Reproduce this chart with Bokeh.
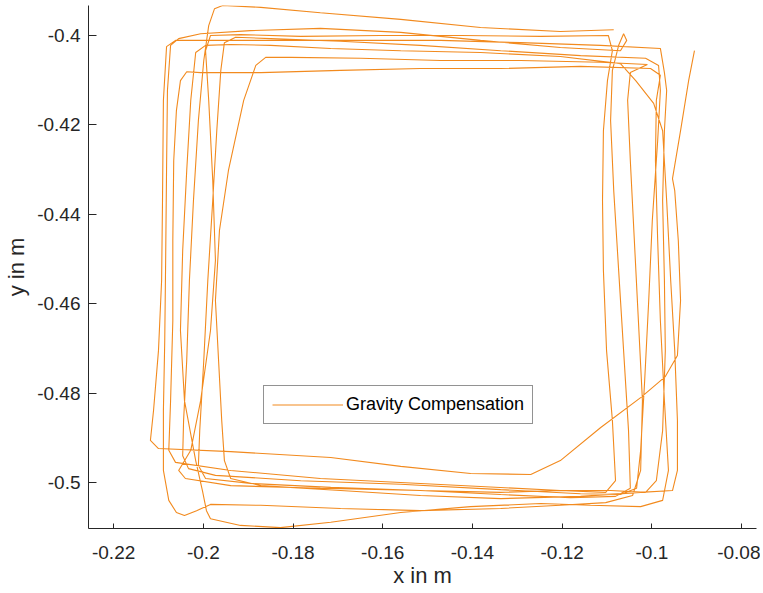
from bokeh.plotting import figure
from bokeh.models import Range1d, FixedTicker, Legend, LegendItem
from bokeh.embed import file_html
from bokeh.resources import INLINE

# Trajectory (x in m, y in m), one list per lap
lap1_x = [-0.1085, -0.1204, -0.1382, -0.1560, -0.1739, -0.1872, -0.1957, -0.1975, -0.1988, -0.1999, -0.2011, -0.2022, -0.2031, -0.2037, -0.2044, -0.2046, -0.2033, -0.1973, -0.1783, -0.1560, -0.1337, -0.1159, -0.1070, -0.1034, -0.1025, -0.1016, -0.1007, -0.0999, -0.0987, -0.0981, -0.0985, -0.1014]
lap1_y = [-0.3987, -0.3991, -0.3982, -0.3964, -0.3949, -0.3937, -0.3933, -0.3940, -0.3978, -0.4056, -0.4190, -0.4369, -0.4548, -0.4727, -0.4861, -0.4940, -0.4969, -0.4984, -0.4996, -0.5004, -0.5016, -0.5025, -0.5027, -0.5013, -0.4928, -0.4772, -0.4593, -0.4414, -0.4235, -0.4123, -0.4067, -0.4051]

lap2_x = [-0.1159, -0.1337, -0.1516, -0.1694, -0.1850, -0.1928, -0.1953, -0.1961, -0.1970, -0.1979, -0.1990, -0.1999, -0.2008, -0.2011, -0.1995, -0.1895, -0.1716, -0.1516, -0.1337, -0.1181, -0.1081, -0.1048, -0.1052, -0.1063, -0.1074, -0.1085, -0.1092, -0.1088, -0.1074, -0.1063, -0.1056, -0.1070]
lap2_y = [-0.4045, -0.4034, -0.4022, -0.4013, -0.4007, -0.4004, -0.4016, -0.4078, -0.4213, -0.4369, -0.4548, -0.4727, -0.4884, -0.4962, -0.4991, -0.5002, -0.5011, -0.5018, -0.5027, -0.5034, -0.5031, -0.5013, -0.4884, -0.4705, -0.4526, -0.4347, -0.4190, -0.4078, -0.4022, -0.3996, -0.4011, -0.4034]

lap3_x = [-0.1204, -0.1382, -0.1560, -0.1739, -0.1895, -0.2006, -0.2055, -0.2073, -0.2080, -0.2082, -0.2084, -0.2086, -0.2089, -0.2089, -0.2077, -0.2060, -0.2042, -0.2015, -0.1984, -0.1872, -0.1694, -0.1516, -0.1337, -0.1204, -0.1103, -0.1043, -0.1025, -0.1021, -0.1030, -0.1039, -0.1048, -0.1054, -0.1048, -0.1010]
lap3_y = [-0.4027, -0.4011, -0.3993, -0.3984, -0.3989, -0.3996, -0.4007, -0.4022, -0.4123, -0.4302, -0.4503, -0.4682, -0.4839, -0.4973, -0.5040, -0.5067, -0.5074, -0.5063, -0.5049, -0.5051, -0.5058, -0.5063, -0.5058, -0.5051, -0.5045, -0.5029, -0.4973, -0.4817, -0.4638, -0.4459, -0.4280, -0.4145, -0.4083, -0.4065]

lap4_x = [-0.1114, -0.1293, -0.1471, -0.1649, -0.1805, -0.1861, -0.1883, -0.1910, -0.1944, -0.1964, -0.1973, -0.1966, -0.1959, -0.1953, -0.1939, -0.1872, -0.1694, -0.1516, -0.1337, -0.1159, -0.1025, -0.0954, -0.0943, -0.0943, -0.0949, -0.0958, -0.0967, -0.0976, -0.0996, -0.1036, -0.1070]
lap4_y = [-0.4060, -0.4056, -0.4056, -0.4051, -0.4049, -0.4049, -0.4067, -0.4145, -0.4302, -0.4436, -0.4593, -0.4727, -0.4861, -0.4951, -0.4991, -0.5007, -0.5018, -0.5029, -0.5036, -0.5031, -0.5022, -0.5018, -0.4973, -0.4861, -0.4705, -0.4548, -0.4369, -0.4213, -0.4152, -0.4101, -0.4063]

lap5_x = [-0.1204, -0.1382, -0.1560, -0.1716, -0.1850, -0.1939, -0.1995, -0.2017, -0.2028, -0.2037, -0.2046, -0.2051, -0.2042, -0.2017, -0.2002, -0.1993, -0.1984, -0.1917, -0.1828, -0.1716, -0.1560, -0.1404, -0.1248, -0.1137, -0.1025, -0.0976, -0.0963, -0.0972, -0.0981, -0.0987, -0.0992, -0.0990, -0.0981, -0.1003]
lap5_y = [-0.4047, -0.4038, -0.4034, -0.4029, -0.4022, -0.4020, -0.4022, -0.4038, -0.4145, -0.4302, -0.4481, -0.4660, -0.4817, -0.4951, -0.5018, -0.5063, -0.5081, -0.5096, -0.5101, -0.5089, -0.5067, -0.5054, -0.5047, -0.5051, -0.5054, -0.5040, -0.4973, -0.4817, -0.4638, -0.4459, -0.4280, -0.4145, -0.4089, -0.4074]

lap6_x = [-0.1159, -0.1337, -0.1516, -0.1694, -0.1872, -0.2006, -0.2037, -0.2051, -0.2060, -0.2066, -0.2068, -0.2068, -0.2073, -0.2077, -0.2062, -0.1939, -0.1739, -0.1560, -0.1382, -0.1204, -0.1103, -0.1081, -0.1088, -0.1101, -0.1108, -0.1110, -0.1108, -0.1099, -0.1088, -0.1097]
lap6_y = [-0.4069, -0.4074, -0.4074, -0.4078, -0.4083, -0.4083, -0.4081, -0.4101, -0.4168, -0.4280, -0.4459, -0.4638, -0.4817, -0.4928, -0.4955, -0.4973, -0.4991, -0.5000, -0.5009, -0.5018, -0.5022, -0.4996, -0.4861, -0.4705, -0.4526, -0.4369, -0.4213, -0.4101, -0.4034, -0.4000]

lap7_x = [-0.1248, -0.1426, -0.1605, -0.1783, -0.1917, -0.1984, -0.1995, -0.1988, -0.1979, -0.1973, -0.1984, -0.2006, -0.2028, -0.2055, -0.2040, -0.1939, -0.1739, -0.1516, -0.1337, -0.1204, -0.1092, -0.1014, -0.0990, -0.0976, -0.0970, -0.0972, -0.0976, -0.0972, -0.0967, -0.0972, -0.0981]
lap7_y = [-0.4002, -0.4000, -0.4000, -0.4002, -0.3998, -0.4000, -0.4034, -0.4145, -0.4324, -0.4503, -0.4660, -0.4817, -0.4928, -0.4973, -0.4991, -0.5007, -0.5013, -0.5018, -0.5022, -0.5018, -0.5018, -0.5022, -0.4996, -0.4884, -0.4705, -0.4548, -0.4369, -0.4213, -0.4123, -0.4083, -0.4029]

lap8_x = [-0.1114, -0.1293, -0.1471, -0.1649, -0.1828, -0.2006, -0.2062, -0.2082, -0.2089, -0.2091, -0.2093, -0.2100, -0.2111, -0.2118, -0.2100, -0.1939, -0.1716, -0.1560, -0.1404, -0.1270, -0.1204, -0.1114, -0.1025, -0.0970, -0.0943, -0.0936, -0.0941, -0.0949, -0.0954, -0.0936, -0.0918, -0.0905]
lap8_y = [-0.4022, -0.4016, -0.4011, -0.4011, -0.4011, -0.4011, -0.4011, -0.4025, -0.4145, -0.4369, -0.4548, -0.4705, -0.4839, -0.4906, -0.4924, -0.4931, -0.4944, -0.4964, -0.4980, -0.4982, -0.4951, -0.4877, -0.4810, -0.4763, -0.4716, -0.4593, -0.4459, -0.4347, -0.4320, -0.4213, -0.4101, -0.4034]

x_ticks = [-0.22, -0.2, -0.18, -0.16, -0.14, -0.12, -0.1, -0.08]
x_tick_labels = ["-0.22", "-0.2", "-0.18", "-0.16", "-0.14", "-0.12", "-0.1", "-0.08"]
y_ticks = [-0.5, -0.48, -0.46, -0.44, -0.42, -0.4]
y_tick_labels = ["-0.5", "-0.48", "-0.46", "-0.44", "-0.42", "-0.4"]

series_label = "Gravity Compensation"
x_label = "x in m"
y_label = "y in m"

path_x = lap1_x + lap2_x + lap3_x + lap4_x + lap5_x + lap6_x + lap7_x + lap8_x
path_y = lap1_y + lap2_y + lap3_y + lap4_y + lap5_y + lap6_y + lap7_y + lap8_y

FONT = "Liberation Sans"
TEXT = "#262626"
ORANGE = "#F28A1E"

p = figure(width=760, height=590,
           x_range=Range1d(-0.2256, -0.07667),
           y_range=Range1d(-0.51029, -0.39329),
           output_backend="svg", toolbar_location=None,
           min_border_left=88, min_border_right=4,
           min_border_top=5, min_border_bottom=62)
p.outline_line_color = None
p.xgrid.visible = False
p.ygrid.visible = False
p.background_fill_color = "white"
p.border_fill_color = "white"

r = p.line(path_x, path_y, line_color=ORANGE, line_width=1.1)

for ax, ticks, labels, tick_in in ((p.xaxis[0], x_ticks, x_tick_labels, 5),
                                   (p.yaxis[0], y_ticks, y_tick_labels, 8)):
    ax.ticker = FixedTicker(ticks=ticks)
    ax.major_label_overrides = dict(zip(ticks, labels))
    ax.minor_tick_line_color = None
    ax.major_tick_in = tick_in
    ax.major_tick_out = 0
    ax.axis_line_color = TEXT
    ax.major_tick_line_color = TEXT
    ax.major_label_text_font = FONT
    ax.major_label_text_font_size = "19px"
    ax.major_label_text_color = TEXT
    ax.axis_label_text_font = FONT
    ax.axis_label_text_font_size = "22px"
    ax.axis_label_text_font_style = "normal"
    ax.axis_label_text_color = TEXT

p.xaxis.axis_label = x_label
p.yaxis.axis_label = y_label
p.xaxis.major_label_standoff = 17
p.xaxis.axis_label_standoff = 1
p.yaxis.major_label_standoff = 8
p.yaxis.axis_label_standoff = 5

legend = Legend(items=[LegendItem(label=series_label, renderers=[r])],
                location=(175, 104),
                padding=8, spacing=0, margin=0,
                glyph_width=71, glyph_height=19, label_height=19,
                label_standoff=3,
                label_text_font=FONT, label_text_font_size="18px",
                label_text_color="#000000",
                border_line_color=TEXT, border_line_width=1,
                background_fill_color="white", background_fill_alpha=1)
p.add_layout(legend)

open("out.html", "w").write(file_html(p, INLINE))
